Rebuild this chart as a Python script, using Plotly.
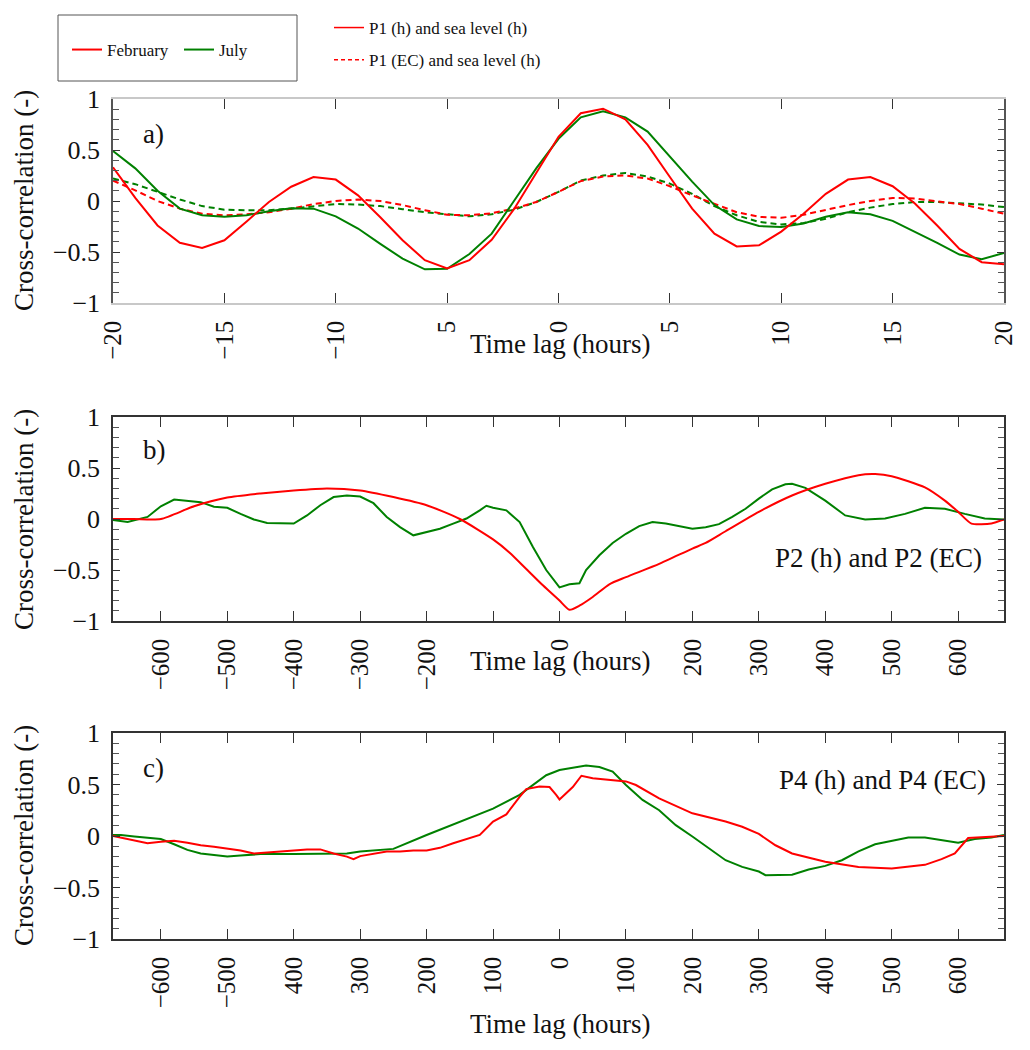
import plotly.graph_objects as go

# ---------------- data ----------------
# Panel a: P1 vs sea level, hourly lags
lag_a = list(range(-20, 21))
feb_p1h = [0.33, 0.03, -0.24, -0.41, -0.46, -0.385, -0.2, -0.01, 0.14, 0.235, 0.21,
           0.055, -0.16, -0.385, -0.58, -0.66, -0.58, -0.38, -0.08, 0.28, 0.63,
           0.86, 0.905, 0.80, 0.55, 0.235, -0.075, -0.32, -0.445, -0.435, -0.30,
           -0.125, 0.07, 0.21, 0.235, 0.145, -0.025, -0.24, -0.47, -0.60, -0.62]
jul_p1h = [0.49, 0.32, 0.10, -0.075, -0.14, -0.155, -0.14, -0.10, -0.07, -0.075, -0.15,
           -0.27, -0.42, -0.565, -0.67, -0.665, -0.52, -0.32, 0.0, 0.32, 0.61,
           0.82, 0.88, 0.82, 0.68, 0.43, 0.19, -0.04, -0.18, -0.245, -0.255,
           -0.22, -0.155, -0.11, -0.13, -0.195, -0.30, -0.41, -0.525, -0.57, -0.51]
feb_p1ec = [0.20, 0.105, 0.0, -0.075, -0.125, -0.14, -0.13, -0.11, -0.075, -0.03, 0.0,
            0.015, 0.0, -0.04, -0.09, -0.135, -0.14, -0.12, -0.075, -0.01, 0.09,
            0.195, 0.24, 0.25, 0.22, 0.145, 0.055, -0.03, -0.11, -0.155, -0.165,
            -0.135, -0.085, -0.04, 0.0, 0.03, 0.025, 0.0, -0.03, -0.075, -0.125]
jul_p1ec = [0.22, 0.165, 0.09, 0.015, -0.05, -0.085, -0.09, -0.09, -0.075, -0.05, -0.03,
            -0.035, -0.05, -0.08, -0.11, -0.13, -0.15, -0.13, -0.085, -0.01, 0.09,
            0.20, 0.25, 0.275, 0.24, 0.17, 0.07, -0.05, -0.14, -0.205, -0.23,
            -0.215, -0.175, -0.11, -0.065, -0.03, -0.01, -0.01, -0.02, -0.035, -0.06]

# Panel b: P2 (h) and P2 (EC)
lag_b_feb = [-672, -640, -600, -550, -500, -450, -400, -350, -300, -250, -200, -150, -100,
             -75, -50, -25, 0, 15, 30, 50, 75, 100, 150, 200, 220, 250, 300, 350, 400,
             450, 475, 500, 550, 580, 600, 620, 650, 669]
feb_b = [0.0, 0.0, 0.0, 0.125, 0.21, 0.25, 0.28, 0.30, 0.28, 0.215, 0.135, 0.0, -0.2,
         -0.33, -0.49, -0.65, -0.80, -0.89, -0.85, -0.765, -0.64, -0.57, -0.44, -0.29,
         -0.235, -0.12, 0.07, 0.23, 0.345, 0.43, 0.44, 0.42, 0.31, 0.18, 0.07, -0.045,
         -0.045, -0.005]
lag_b_jul = [-672, -650, -620, -600, -580, -560, -540, -520, -500, -480, -460, -440, -420,
             -400, -380, -360, -340, -320, -300, -280, -260, -240, -220, -200, -180, -160,
             -140, -120, -110, -100, -80, -60, -40, -20, 0, 15, 30, 40, 60, 80, 100, 120,
             140, 160, 180, 200, 220, 240, 260, 280, 300, 320, 340, 350, 370, 400, 430,
             460, 490, 520, 550, 580, 610, 640, 669]
jul_b = [-0.01, -0.03, 0.02, 0.125, 0.19, 0.18, 0.165, 0.12, 0.11, 0.05, -0.005, -0.04,
         -0.04, -0.045, 0.035, 0.135, 0.215, 0.23, 0.22, 0.155, 0.02, -0.08, -0.16, -0.13,
         -0.095, -0.045, 0.005, 0.085, 0.13, 0.11, 0.085, -0.03, -0.275, -0.50, -0.67,
         -0.64, -0.63, -0.50, -0.355, -0.235, -0.145, -0.07, -0.03, -0.045, -0.07, -0.095,
         -0.08, -0.05, 0.02, 0.10, 0.20, 0.29, 0.34, 0.345, 0.305, 0.18, 0.035, -0.005,
         0.005, 0.05, 0.11, 0.10, 0.05, 0.005, -0.005]

# Panel c: P4 (h) and P4 (EC)
lag_c_feb = [-672, -640, -620, -600, -580, -560, -540, -520, -500, -480, -460, -440, -420,
             -400, -380, -360, -340, -320, -310, -300, -280, -260, -240, -220, -200, -180,
             -160, -140, -120, -100, -80, -60, -50, -30, -15, -5, 0, 20, 33, 50, 75, 100,
             115, 150, 200, 250, 275, 300, 325, 350, 400, 450, 500, 550, 575, 595, 615,
             650, 669]
feb_c = [0.0, -0.04, -0.07, -0.055, -0.045, -0.065, -0.09, -0.105, -0.125, -0.14, -0.17,
         -0.16, -0.15, -0.135, -0.13, -0.13, -0.17, -0.20, -0.225, -0.195, -0.175, -0.15,
         -0.15, -0.14, -0.14, -0.115, -0.07, -0.03, 0.01, 0.14, 0.21, 0.38, 0.455, 0.48,
         0.475, 0.40, 0.355, 0.475, 0.585, 0.56, 0.545, 0.53, 0.495, 0.365, 0.22, 0.14,
         0.09, 0.02, -0.09, -0.17, -0.25, -0.30, -0.315, -0.28, -0.225, -0.17, -0.02,
         -0.005, 0.0]
lag_c_jul = [-672, -660, -640, -600, -580, -560, -540, -520, -500, -480, -450, -400, -350,
             -320, -300, -250, -200, -150, -100, -60, -40, -20, 0, 20, 40, 60, 80, 100,
             125, 150, 175, 200, 225, 250, 275, 300, 310, 350, 375, 400, 425, 450, 475,
             500, 525, 550, 575, 600, 625, 650, 669]
jul_c = [0.01, 0.01, -0.005, -0.03, -0.08, -0.135, -0.17, -0.185, -0.20, -0.19, -0.175,
         -0.175, -0.17, -0.17, -0.15, -0.125, 0.01, 0.14, 0.265, 0.40, 0.495, 0.59, 0.64,
         0.665, 0.685, 0.67, 0.625, 0.495, 0.35, 0.25, 0.105, -0.005, -0.12, -0.235, -0.30,
         -0.345, -0.38, -0.375, -0.325, -0.29, -0.235, -0.15, -0.08, -0.045, -0.015,
         -0.015, -0.04, -0.065, -0.03, -0.015, 0.01]

# tick labels (as printed in the figure)
xt_a_vals = [-20, -15, -10, -5, 0, 5, 10, 15, 20]
xt_a_text = ["\u221220", "\u221215", "\u221210", "5", "0", "5", "10", "15", "20"]
xt_b_vals = [-600, -500, -400, -300, -200, -100, 0, 100, 200, 300, 400, 500, 600]
xt_b_text = ["\u2212600", "\u2212500", "\u2212400", "\u2212300", "\u2212200", "", "0", "",
             "200", "300", "400", "500", "600"]
xt_c_text = ["\u2212600", "\u2212500", "400", "300", "200", "100", "0", "100",
             "200", "300", "400", "500", "600"]
yt_vals = [-1, -0.5, 0, 0.5, 1]
yt_text = ["\u22121", "\u22120.5", "0", "0.5", "1"]

RED = "#ff0000"
GREEN = "#008000"
FONT = "Liberation Serif, Times New Roman, serif"

# ---------------- layout helpers (pixel -> paper) ----------------
W, H = 1030, 1050
ML, MR, MT, MB = 113, 26, 99, 111
PW, PH = W - ML - MR, H - MT - MB


def px(x):
    return (x - ML) / PW


def py(y):
    return (H - MB - y) / PH


fig = go.Figure()

# legend entries
fig.add_trace(go.Scatter(x=[None], y=[None], mode="lines", name="February",
                         line=dict(color=RED, width=2), legend="legend"))
fig.add_trace(go.Scatter(x=[None], y=[None], mode="lines", name="July",
                         line=dict(color=GREEN, width=2), legend="legend"))
fig.add_trace(go.Scatter(x=[None], y=[None], mode="lines", name="P1 (h) and sea level (h)",
                         line=dict(color=RED, width=1.5), legend="legend2", legendgroup="g1"))
fig.add_trace(go.Scatter(x=[None], y=[None], mode="lines", name="P1 (EC) and sea level (h)",
                         line=dict(color=RED, width=1.5, dash="4px,3px"), legend="legend2",
                         legendgroup="g2"))

# panel a
for y, c, d in [(jul_p1ec, GREEN, "6px,4px"), (feb_p1ec, RED, "6px,4px"),
                (jul_p1h, GREEN, "solid"), (feb_p1h, RED, "solid")]:
    fig.add_trace(go.Scatter(x=lag_a, y=y, mode="lines", showlegend=False,
                             line=dict(color=c, width=2, dash=d), xaxis="x", yaxis="y"))
# panel b
fig.add_trace(go.Scatter(x=lag_b_jul, y=jul_b, mode="lines", showlegend=False,
                         line=dict(color=GREEN, width=2), xaxis="x2", yaxis="y2"))
fig.add_trace(go.Scatter(x=lag_b_feb, y=feb_b, mode="lines", showlegend=False,
                         line=dict(color=RED, width=2, shape="spline", smoothing=0.6),
                         xaxis="x2", yaxis="y2"))
# panel c
fig.add_trace(go.Scatter(x=lag_c_jul, y=jul_c, mode="lines", showlegend=False,
                         line=dict(color=GREEN, width=2), xaxis="x3", yaxis="y3"))
fig.add_trace(go.Scatter(x=lag_c_feb, y=feb_c, mode="lines", showlegend=False,
                         line=dict(color=RED, width=2), xaxis="x3", yaxis="y3"))


def xaxis(rng, vals, text, dom_anchor, linecolor):
    return dict(range=rng, tickmode="array", tickvals=vals, ticktext=text,
                tickangle=-90, ticks="inside", ticklen=10, tickcolor="#333",
                showline=True, linecolor=linecolor, linewidth=1.5, mirror="ticks",
                showgrid=False, zeroline=False, anchor=dom_anchor, automargin=False,
                tickfont=dict(family=FONT, size=25, color="#111"),
                ticklabelstandoff=6)


def yaxis(dom, anchor, linecolor):
    return dict(range=[-1, 1], domain=dom, anchor=anchor, tickmode="array",
                tickvals=yt_vals, ticktext=yt_text, ticks="inside", ticklen=7,
                tickcolor="#333", showline=True, linecolor=linecolor, linewidth=1.5,
                mirror="ticks", showgrid=False, zeroline=False, automargin=False,
                minor=dict(dtick=0.1, ticks="inside", ticklen=6, tickcolor="#555"),
                tickfont=dict(family=FONT, size=26, color="#111"), ticklabelstandoff=6)


fig.update_layout(
    width=W, height=H, margin=dict(l=ML, r=MR, t=MT, b=MB, autoexpand=False),
    plot_bgcolor="white", paper_bgcolor="white",
    font=dict(family=FONT, color="#111"),
    xaxis=xaxis([-20, 20], xt_a_vals, xt_a_text, "y", "#c8c8c8"),
    yaxis=yaxis([py(303), py(99)], "x", "#555"),
    xaxis2=xaxis([-672, 669], xt_b_vals, xt_b_text, "y2", "#333"),
    yaxis2=yaxis([py(621), py(417)], "x2", "#333"),
    xaxis3=xaxis([-672, 669], xt_b_vals, xt_c_text, "y3", "#333"),
    yaxis3=yaxis([py(939), py(733)], "x3", "#333"),
    legend=dict(orientation="h", x=px(67), y=py(50), xanchor="left", yanchor="middle",
                font=dict(family=FONT, size=17, color="#111"), bgcolor="rgba(0,0,0,0)",
                entrywidth=67, borderwidth=0),
    legend2=dict(orientation="v", x=px(329), y=py(10), xanchor="left", yanchor="top",
                 font=dict(family=FONT, size=17, color="#111"), bgcolor="rgba(0,0,0,0)",
                 tracegroupgap=7, borderwidth=0),
    shapes=[dict(type="rect", xref="paper", yref="paper", x0=px(58), x1=px(297),
                 y0=py(81), y1=py(15), line=dict(color="#555", width=1))],
)

ann = []
for ycen in [201, 520, 836]:
    ann.append(dict(text="Cross-correlation (-)", xref="paper", yref="paper",
                    x=px(24), y=py(ycen), textangle=-90, showarrow=False,
                    xanchor="center", yanchor="middle",
                    font=dict(family=FONT, size=27, color="#111")))
for ycen in [344, 661, 1024]:
    ann.append(dict(text="Time lag (hours)", xref="paper", yref="paper",
                    x=px(560), y=py(ycen), showarrow=False, xanchor="center",
                    yanchor="middle", font=dict(family=FONT, size=27, color="#111")))
for t, ycen in [("a)", 134), ("b)", 450), ("c)", 768)]:
    ann.append(dict(text=t, xref="paper", yref="paper", x=px(141), y=py(ycen),
                    showarrow=False, xanchor="left", yanchor="middle",
                    font=dict(family=FONT, size=27, color="#111")))
ann.append(dict(text="P2 (h) and P2 (EC)", xref="paper", yref="paper", x=px(984),
                y=py(558), showarrow=False, xanchor="right", yanchor="middle",
                font=dict(family=FONT, size=27, color="#111")))
ann.append(dict(text="P4 (h) and P4 (EC)", xref="paper", yref="paper", x=px(988),
                y=py(780), showarrow=False, xanchor="right", yanchor="middle",
                font=dict(family=FONT, size=27, color="#111")))
fig.update_layout(annotations=ann)

fig.write_html("out.html")
